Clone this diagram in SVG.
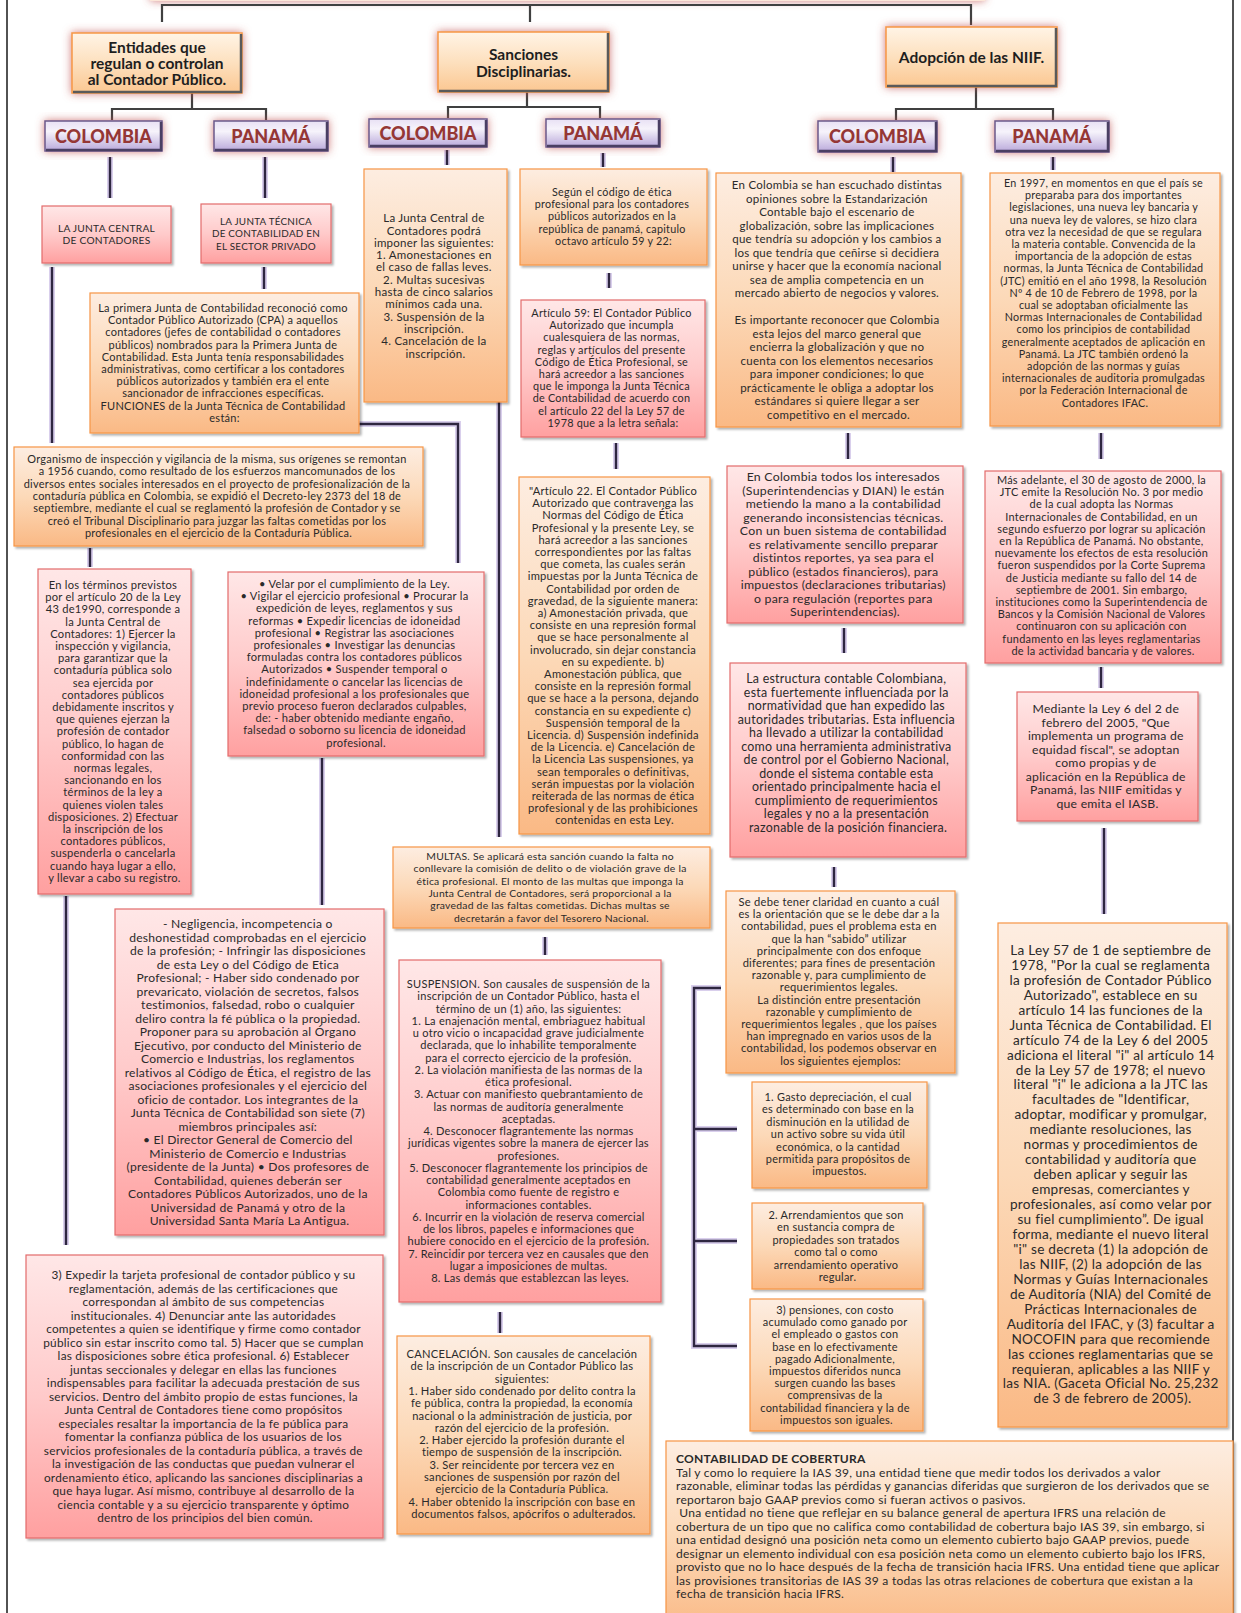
<svg xmlns="http://www.w3.org/2000/svg" width="1241" height="1613" viewBox="0 0 1241 1613">
<defs>
<linearGradient id="og" x1="0" y1="0" x2="0" y2="1"><stop offset="0" stop-color="#FDEDE1"/><stop offset="0.5" stop-color="#FCD9B8"/><stop offset="1" stop-color="#FAB985"/></linearGradient>
<linearGradient id="pg" x1="0" y1="0" x2="0" y2="1"><stop offset="0" stop-color="#FFE7E7"/><stop offset="0.5" stop-color="#FFCACA"/><stop offset="1" stop-color="#FFA0A0"/></linearGradient>
<linearGradient id="tg" x1="0" y1="0" x2="0" y2="1"><stop offset="0" stop-color="#FFF4E6"/><stop offset="0.5" stop-color="#FDE0BE"/><stop offset="1" stop-color="#FBC791"/></linearGradient>
<linearGradient id="cg" x1="0" y1="0" x2="0" y2="1"><stop offset="0" stop-color="#E8E0F4"/><stop offset="0.35" stop-color="#F6F3FB"/><stop offset="1" stop-color="#B9A8DA"/></linearGradient>
<filter id="sh" x="-10%" y="-10%" width="120%" height="120%"><feDropShadow dx="2" dy="2" stdDeviation="1.2" flood-color="#000" flood-opacity="0.3"/></filter>
<filter id="glow" x="-20%" y="-30%" width="140%" height="160%"><feDropShadow dx="0" dy="0" stdDeviation="4" flood-color="#C0504D" flood-opacity="0.75"/></filter>
</defs>
<style>
.ob{fill:url(#og);stroke:#F79646;stroke-width:1.2;filter:url(#sh)}
.pb{fill:url(#pg);stroke:#E36C6C;stroke-width:1.2;filter:url(#sh)}
.tb{fill:url(#tg);stroke:#F79646;stroke-width:1.5;filter:url(#glow)}
.cb{fill:url(#cg);stroke:#6A5A8A;stroke-width:1.5;filter:url(#glow)}
.bev{fill:none;stroke:#5A5A5A;stroke-width:2.5}
.cbev{fill:none;stroke:#4A3F63;stroke-width:2.5}
.t{font-family:Lato,"Liberation Sans",sans-serif;fill:#2A2A2A;text-anchor:middle;letter-spacing:0.25px}
.tl{font-family:Lato,"Liberation Sans",sans-serif;fill:#2A2A2A;letter-spacing:0.25px}
.tt{font-family:Lato,"Liberation Sans",sans-serif;font-weight:bold;fill:#1E1E1E;text-anchor:middle;font-size:15.5px}
.ct{font-family:Lato,"Liberation Sans",sans-serif;font-weight:900;fill:#953735;text-anchor:middle;font-size:18px}
.tree{fill:none;stroke:#404040;stroke-width:2.2}
.cg1{fill:none;stroke:#B9A7DD;stroke-width:6;stroke-opacity:0.55}
.cl{fill:none;stroke:#2E2640;stroke-width:2.4}
</style>
<rect x="0" y="0" width="1241" height="1613" fill="#FFFFFF"/>
<rect x="7" y="-10" width="1226" height="1640" fill="none" stroke="#1A1A1A" stroke-width="1.5"/>
<rect id="root-glow" x="150" y="-30" width="835" height="31" fill="#FCE6D8" filter="url(#glow)"/>

<g id="connectors">
<path class="tree" d="M162,22 V5 H971 V25 M530,5 V22 M192,93 V109 M112,120 V109 H266 V120 M527,92 V107 M448,118 V107 H600 V118 M976,87 V109 M896,120 V109 H1053 V120"/>
<path class="cg1" d="M110,157 V198 M265,157 V198 M52,267 V443 M264,267 V289 M359,424 H458 V563 M90,548 V567 M66,896 V1245 M322,758 V905 M447,150 V165 M603,153 V167 M499,402 V837 M609,273 V288 M616,443 V469 M545,937 V955 M500,1312 V1333 M893,157 V172 M1053,157 V170 M848,433 V459 M1101,433 V459 M844,628 V653 M1101,667 V688 M834,867 V887 M1104,828 V914 M721,988 H694 V1346 H737 M694,1129 H737 M694,1241 H737"/>
<path class="cl" d="M110,157 V198 M265,157 V198 M52,267 V443 M264,267 V289 M359,424 H458 V563 M90,548 V567 M66,896 V1245 M322,758 V905 M447,150 V165 M603,153 V167 M499,402 V837 M609,273 V288 M616,443 V469 M545,937 V955 M500,1312 V1333 M893,157 V172 M1053,157 V170 M848,433 V459 M1101,433 V459 M844,628 V653 M1101,667 V688 M834,867 V887 M1104,828 V914 M721,988 H694 V1346 H737 M694,1129 H737 M694,1241 H737"/>
</g>

<g id="n-entidades">
<rect class="tb" x="72" y="33" width="170" height="60"/>
<path class="bev" d="M241,34 V92 H73"/>
<text class="tt" x="157" y="52.5"><tspan x="157">Entidades que</tspan><tspan x="157" dy="16">regulan o controlan</tspan><tspan x="157" dy="16">al Contador Público.</tspan></text>
</g>
<g id="n-sanciones">
<rect class="tb" x="438" y="32" width="171" height="60"/>
<path class="bev" d="M608,33 V91 H439"/>
<text class="tt" x="523.5" y="59.5"><tspan x="523.5">Sanciones</tspan><tspan x="523.5" dy="17">Disciplinarias.</tspan></text>
</g>
<g id="n-adopcion">
<rect class="tb" x="886" y="27" width="171" height="60"/>
<path class="bev" d="M1056,28 V86 H887"/>
<text class="tt" x="971.5" y="62.5">Adopción de las NIIF.</text>
</g>

<g id="n-col1"><rect class="cb" x="45" y="121" width="117" height="30"/><path class="cbev" d="M161,122 V150 H46"/><text class="ct" x="103.5" y="142.5">COLOMBIA</text></g>
<g id="n-pan1"><rect class="cb" x="214" y="121" width="114" height="30"/><path class="cbev" d="M327,122 V150 H215"/><text class="ct" x="271" y="142.5">PANAMÁ</text></g>
<g id="n-col2"><rect class="cb" x="369" y="119" width="118" height="28"/><path class="cbev" d="M486,120 V146 H370"/><text class="ct" x="428" y="139.5">COLOMBIA</text></g>
<g id="n-pan2"><rect class="cb" x="546" y="119" width="114" height="28"/><path class="cbev" d="M659,120 V146 H547"/><text class="ct" x="603" y="139.5">PANAMÁ</text></g>
<g id="n-col3"><rect class="cb" x="818" y="121" width="119" height="31"/><path class="cbev" d="M936,122 V151 H819"/><text class="ct" x="877.5" y="143">COLOMBIA</text></g>
<g id="n-pan3"><rect class="cb" x="995" y="121" width="114" height="31"/><path class="cbev" d="M1108,122 V151 H996"/><text class="ct" x="1052" y="143">PANAMÁ</text></g>

<g id="n-junta-central"><rect class="pb" x="42" y="206" width="129" height="57"/>
<text class="t" font-size="10.2" x="106.5" y="231.8"><tspan x="106.5">LA JUNTA CENTRAL</tspan><tspan x="106.5" dy="12.5">DE CONTADORES</tspan></text></g>

<g id="n-junta-tecnica"><rect class="pb" x="201" y="204" width="130" height="59"/>
<text class="t" font-size="9.9" x="266" y="224.7"><tspan x="266">LA JUNTA TÉCNICA</tspan><tspan x="266" dy="12.5">DE CONTABILIDAD EN</tspan><tspan x="266" dy="12.5">EL SECTOR PRIVADO</tspan></text></g>

<g id="n-primera"><rect class="ob" x="90" y="293" width="269" height="140"/>
<text class="t" font-size="11" x="224.5" y="312">
<tspan x="224.5">La primera Junta de Contabilidad reconoció como</tspan>
<tspan x="224.5" dy="12.2">Contador Público Autorizado (CPA) a aquellos</tspan>
<tspan x="224.5" dy="12.2">contadores (jefes de contabilidad o contadores</tspan>
<tspan x="224.5" dy="12.2">públicos) nombrados para la Primera Junta de</tspan>
<tspan x="224.5" dy="12.2">Contabilidad. Esta Junta tenía responsabilidades</tspan>
<tspan x="224.5" dy="12.2">administrativas, como certificar a los contadores</tspan>
<tspan x="224.5" dy="12.2">públicos autorizados y también era el ente</tspan>
<tspan x="224.5" dy="12.2">sancionador de infracciones específicas.</tspan>
<tspan x="224.5" dy="12.2">FUNCIONES de la Junta Técnica de Contabilidad</tspan>
<tspan x="224.5" dy="12.2">están:</tspan>
</text></g>

<g id="n-col-sanciones"><rect class="ob" x="364" y="169" width="143" height="233"/>
<text class="t" font-size="11.5" x="435.5" y="222.2">
<tspan x="435.5">La Junta Central de</tspan>
<tspan x="435.5" dy="12.3">Contadores podrá</tspan>
<tspan x="435.5" dy="12.3">imponer las siguientes:</tspan>
<tspan x="435.5" dy="12.3">1. Amonestaciones en</tspan>
<tspan x="435.5" dy="12.3">el caso de fallas leves.</tspan>
<tspan x="435.5" dy="12.3">2. Multas sucesivas</tspan>
<tspan x="435.5" dy="12.3">hasta de cinco salarios</tspan>
<tspan x="435.5" dy="12.3">mínimos cada una.</tspan>
<tspan x="435.5" dy="12.3">3. Suspensión de la</tspan>
<tspan x="435.5" dy="12.3">inscripción.</tspan>
<tspan x="435.5" dy="12.3">4. Cancelación de la</tspan>
<tspan x="435.5" dy="12.3">inscripción.</tspan>
</text></g>

<g id="n-pan-sanciones"><rect class="ob" x="520" y="169" width="187" height="96"/>
<text class="t" font-size="10.75" x="613.5" y="196">
<tspan x="613.5">Según el código de ética</tspan>
<tspan x="613.5" dy="12.2">profesional para los contadores</tspan>
<tspan x="613.5" dy="12.2">públicos autorizados en la</tspan>
<tspan x="613.5" dy="12.2">república de panamá, capitulo</tspan>
<tspan x="613.5" dy="12.2">octavo artículo 59 y 22:</tspan>
</text></g>

<g id="n-art59"><rect class="pb" x="521" y="300" width="184" height="137"/>
<text class="t" font-size="10.85" x="613" y="317">
<tspan x="613">Artículo 59: El Contador  Público</tspan>
<tspan x="613" dy="12.2">Autorizado que  incumpla</tspan>
<tspan x="613" dy="12.2">cualesquiera de las normas,</tspan>
<tspan x="613" dy="12.2">reglas y artículos del presente</tspan>
<tspan x="613" dy="12.2">Código de Ética Profesional, se</tspan>
<tspan x="613" dy="12.2">hará acreedor a las sanciones</tspan>
<tspan x="613" dy="12.2">que le imponga la Junta Técnica</tspan>
<tspan x="613" dy="12.2">de Contabilidad de acuerdo con</tspan>
<tspan x="613" dy="12.2">el artículo 22 del la Ley 57 de</tspan>
<tspan x="613" dy="12.2">1978 que a la letra señala:</tspan>
</text></g>

<g id="n-col-niif1"><rect class="ob" x="716" y="173" width="245" height="254"/>
<text class="t" font-size="11.5" x="838.5" y="189.2">
<tspan x="838.5">En Colombia se han escuchado distintas</tspan>
<tspan x="838.5" dy="13.5">opiniones sobre la Estandarización</tspan>
<tspan x="838.5" dy="13.5">Contable bajo el escenario de</tspan>
<tspan x="838.5" dy="13.5">globalización, sobre las implicaciones</tspan>
<tspan x="838.5" dy="13.5">que tendría su adopción y los cambios a</tspan>
<tspan x="838.5" dy="13.5">los que tendría que ceñirse si decidiera</tspan>
<tspan x="838.5" dy="13.5">unirse y hacer que la economía nacional</tspan>
<tspan x="838.5" dy="13.5">sea de amplia competencia en un</tspan>
<tspan x="838.5" dy="13.5">mercado abierto de negocios y valores.</tspan>
<tspan x="838.5" dy="27">Es importante  reconocer que Colombia</tspan>
<tspan x="838.5" dy="13.5">esta lejos del marco general que</tspan>
<tspan x="838.5" dy="13.5">encierra la globalización  y que no</tspan>
<tspan x="838.5" dy="13.5">cuenta con los elementos necesarios</tspan>
<tspan x="838.5" dy="13.5">para imponer condiciones; lo que</tspan>
<tspan x="838.5" dy="13.5">prácticamente le obliga a adoptar los</tspan>
<tspan x="838.5" dy="13.5">estándares si quiere llegar a ser</tspan>
<tspan x="838.5" dy="13.5">competitivo en el mercado.</tspan>
</text></g>

<g id="n-pan-niif1"><rect class="ob" x="990" y="173" width="230" height="253"/>
<text class="t" font-size="10.75" x="1105" y="187">
<tspan x="1105">En 1997, en momentos en que el país se</tspan>
<tspan x="1105" dy="12.2">preparaba para dos importantes</tspan>
<tspan x="1105" dy="12.2">legislaciones, una nueva ley bancaria y</tspan>
<tspan x="1105" dy="12.2">una nueva  ley de valores, se hizo clara</tspan>
<tspan x="1105" dy="12.2">otra vez la necesidad de que se regulara</tspan>
<tspan x="1105" dy="12.2">la materia contable. Convencida  de la</tspan>
<tspan x="1105" dy="12.2">importancia de la adopción de estas</tspan>
<tspan x="1105" dy="12.2">normas, la Junta Técnica de Contabilidad</tspan>
<tspan x="1105" dy="12.2">(JTC) emitió en el año 1998, la Resolución</tspan>
<tspan x="1105" dy="12.2">Nº 4 de 10 de Febrero de 1998, por la</tspan>
<tspan x="1105" dy="12.2">cual se adoptaban oficialmente las</tspan>
<tspan x="1105" dy="12.2">Normas Internacionales de Contabilidad</tspan>
<tspan x="1105" dy="12.2">como los principios de contabilidad</tspan>
<tspan x="1105" dy="12.2">generalmente aceptados de aplicación en</tspan>
<tspan x="1105" dy="12.2">Panamá. La JTC también ordenó la</tspan>
<tspan x="1105" dy="12.2">adopción de las normas y guías</tspan>
<tspan x="1105" dy="12.2">internacionales de auditoria promulgadas</tspan>
<tspan x="1105" dy="12.2">por la Federación Internacional de</tspan>
<tspan x="1105" dy="12.2">Contadores IFAC.</tspan>
</text></g>

<g id="n-organismo"><rect class="ob" x="14" y="447" width="409" height="99"/>
<text class="t" font-size="10.95" x="218.5" y="463">
<tspan x="218.5">Organismo de inspección y vigilancia de la misma, sus orígenes se remontan</tspan>
<tspan x="218.5" dy="12.3">a 1956 cuando,  como resultado de los esfuerzos mancomunados de los</tspan>
<tspan x="218.5" dy="12.3">diversos entes sociales interesados en el proyecto de profesionalización de la</tspan>
<tspan x="218.5" dy="12.3">contaduría pública en Colombia, se expidió el Decreto-ley 2373 del 18 de</tspan>
<tspan x="218.5" dy="12.3">septiembre, mediante el cual se reglamentó la profesión de Contador y se</tspan>
<tspan x="218.5" dy="12.3">creó el Tribunal Disciplinario para juzgar las faltas cometidas por los</tspan>
<tspan x="218.5" dy="12.3">profesionales en el ejercicio de la Contaduría  Pública.</tspan>
</text></g>

<g id="n-terminos"><rect class="pb" x="38" y="569" width="153" height="325"/>
<text class="t" font-size="11.15" x="114.5" y="589">
<tspan x="114.5">En los términos previstos</tspan>
<tspan x="114.5" dy="12.2">por el artículo 20 de la Ley</tspan>
<tspan x="114.5" dy="12.2">43 de1990, corresponde  a</tspan>
<tspan x="114.5" dy="12.2">la Junta Central de</tspan>
<tspan x="114.5" dy="12.2">Contadores: 1) Ejercer la</tspan>
<tspan x="114.5" dy="12.2">inspección y vigilancia,</tspan>
<tspan x="114.5" dy="12.2">para garantizar que la</tspan>
<tspan x="114.5" dy="12.2">contaduría pública solo</tspan>
<tspan x="114.5" dy="12.2">sea ejercida por</tspan>
<tspan x="114.5" dy="12.2">contadores públicos</tspan>
<tspan x="114.5" dy="12.2">debidamente inscritos y</tspan>
<tspan x="114.5" dy="12.2">que quienes ejerzan la</tspan>
<tspan x="114.5" dy="12.2">profesión de contador</tspan>
<tspan x="114.5" dy="12.2">público, lo hagan de</tspan>
<tspan x="114.5" dy="12.2">conformidad con las</tspan>
<tspan x="114.5" dy="12.2">normas legales,</tspan>
<tspan x="114.5" dy="12.2">sancionando en los</tspan>
<tspan x="114.5" dy="12.2">términos de la ley a</tspan>
<tspan x="114.5" dy="12.2">quienes violen tales</tspan>
<tspan x="114.5" dy="12.2">disposiciones. 2) Efectuar</tspan>
<tspan x="114.5" dy="12.2">la inscripción de los</tspan>
<tspan x="114.5" dy="12.2">contadores públicos,</tspan>
<tspan x="114.5" dy="12.2">suspenderla o cancelarla</tspan>
<tspan x="114.5" dy="12.2">cuando haya lugar a ello,</tspan>
<tspan x="114.5" dy="12.2">y llevar a cabo su registro.</tspan>
</text></g>

<g id="n-velar"><rect class="pb" x="228" y="572" width="256" height="184"/>
<text class="t" font-size="11.15" x="356" y="588">
<tspan x="356">• Velar por el cumplimiento de la Ley.</tspan>
<tspan x="356" dy="12.2">• Vigilar el ejercicio profesional  • Procurar  la</tspan>
<tspan x="356" dy="12.2">expedición de leyes, reglamentos y sus</tspan>
<tspan x="356" dy="12.2">reformas • Expedir licencias de idoneidad</tspan>
<tspan x="356" dy="12.2">profesional • Registrar las asociaciones</tspan>
<tspan x="356" dy="12.2">profesionales • Investigar las denuncias</tspan>
<tspan x="356" dy="12.2">formuladas contra los contadores  públicos</tspan>
<tspan x="356" dy="12.2">Autorizados • Suspender temporal o</tspan>
<tspan x="356" dy="12.2">indefinidamente o cancelar las licencias de</tspan>
<tspan x="356" dy="12.2">idoneidad profesional a los profesionales que</tspan>
<tspan x="356" dy="12.2">previo proceso fueron declarados culpables,</tspan>
<tspan x="356" dy="12.2">de: -  haber obtenido mediante engaño,</tspan>
<tspan x="356" dy="12.2">falsedad o soborno  su licencia de idoneidad</tspan>
<tspan x="356" dy="12.2">profesional.</tspan>
</text></g>

<g id="n-art22"><rect class="ob" x="519" y="477" width="191" height="357"/>
<text class="t" font-size="11.15" x="614.5" y="495">
<tspan x="614.5">"Artículo 22. El Contador  Público</tspan>
<tspan x="614.5" dy="12.2">Autorizado que  contravenga las</tspan>
<tspan x="614.5" dy="12.2">Normas del Código de Ética</tspan>
<tspan x="614.5" dy="12.2">Profesional y la presente Ley, se</tspan>
<tspan x="614.5" dy="12.2">hará acreedor a las sanciones</tspan>
<tspan x="614.5" dy="12.2">correspondientes por  las faltas</tspan>
<tspan x="614.5" dy="12.2">que cometa, las cuales serán</tspan>
<tspan x="614.5" dy="12.2">impuestas por la Junta Técnica de</tspan>
<tspan x="614.5" dy="12.2">Contabilidad por  orden  de</tspan>
<tspan x="614.5" dy="12.2">gravedad, de la siguiente manera:</tspan>
<tspan x="614.5" dy="12.2">a) Amonestación privada, que</tspan>
<tspan x="614.5" dy="12.2">consiste en una represión formal</tspan>
<tspan x="614.5" dy="12.2">que se hace personalmente al</tspan>
<tspan x="614.5" dy="12.2">involucrado, sin dejar constancia</tspan>
<tspan x="614.5" dy="12.2">en su expediente. b)</tspan>
<tspan x="614.5" dy="12.2">Amonestación pública, que</tspan>
<tspan x="614.5" dy="12.2">consiste en la represión formal</tspan>
<tspan x="614.5" dy="12.2">que se hace a la persona, dejando</tspan>
<tspan x="614.5" dy="12.2">constancia en su expediente  c)</tspan>
<tspan x="614.5" dy="12.2">Suspensión temporal  de la</tspan>
<tspan x="614.5" dy="12.2">Licencia. d) Suspensión indefinida</tspan>
<tspan x="614.5" dy="12.2">de la Licencia.  e) Cancelación de</tspan>
<tspan x="614.5" dy="12.2">la Licencia Las suspensiones, ya</tspan>
<tspan x="614.5" dy="12.2">sean temporales o definitivas,</tspan>
<tspan x="614.5" dy="12.2">serán impuestas por la violación</tspan>
<tspan x="614.5" dy="12.2">reiterada de las normas de ética</tspan>
<tspan x="614.5" dy="12.2">profesional y de las prohibiciones</tspan>
<tspan x="614.5" dy="12.2">contenidas en esta Ley.</tspan>
</text></g>

<g id="n-multas"><rect class="ob" x="393" y="847" width="317" height="81"/>
<text class="t" font-size="10.35" x="551.5" y="859.8">
<tspan x="551.5">MULTAS. Se aplicará esta sanción cuando  la falta no</tspan>
<tspan x="551.5" dy="12.4">conllevare la comisión de delito o de violación grave de la</tspan>
<tspan x="551.5" dy="12.4">ética profesional. El monto  de las multas que imponga la</tspan>
<tspan x="551.5" dy="12.4">Junta Central de Contadores,  será proporcional  a la</tspan>
<tspan x="551.5" dy="12.4">gravedad de las faltas cometidas. Dichas multas se</tspan>
<tspan x="551.5" dy="12.4">decretarán a favor del Tesorero  Nacional.</tspan>
</text></g>

<g id="n-col-niif2"><rect class="pb" x="727" y="466" width="236" height="157"/>
<text class="t" font-size="12.3" x="845" y="481.4">
<tspan x="845">En Colombia todos los interesados</tspan>
<tspan x="845" dy="13.5">(Superintendencias y DIAN)  le están</tspan>
<tspan x="845" dy="13.5">metiendo la mano a la contabilidad</tspan>
<tspan x="845" dy="13.5">generando inconsistencias técnicas.</tspan>
<tspan x="845" dy="13.5">Con un buen sistema de contabilidad</tspan>
<tspan x="845" dy="13.5">es relativamente  sencillo preparar</tspan>
<tspan x="845" dy="13.5">distintos  reportes, ya sea para el</tspan>
<tspan x="845" dy="13.5">público (estados financieros), para</tspan>
<tspan x="845" dy="13.5">impuestos (declaraciones tributarias)</tspan>
<tspan x="845" dy="13.5">o para regulación (reportes para</tspan>
<tspan x="845" dy="13.5">Superintendencias).</tspan>
</text></g>

<g id="n-col-niif3"><rect class="pb" x="730" y="663" width="236" height="194"/>
<text class="t" font-size="12.4" x="848" y="683.4">
<tspan x="848">La estructura contable Colombiana,</tspan>
<tspan x="848" dy="13.5">esta fuertemente influenciada por la</tspan>
<tspan x="848" dy="13.5">normatividad  que han  expedido las</tspan>
<tspan x="848" dy="13.5">autoridades tributarias.  Esta influencia</tspan>
<tspan x="848" dy="13.5">ha llevado  a utilizar  la contabilidad</tspan>
<tspan x="848" dy="13.5">como una  herramienta administrativa</tspan>
<tspan x="848" dy="13.5">de control por el Gobierno Nacional,</tspan>
<tspan x="848" dy="13.5">donde el sistema  contable esta</tspan>
<tspan x="848" dy="13.5">orientado principalmente  hacia el</tspan>
<tspan x="848" dy="13.5">cumplimiento de requerimientos</tspan>
<tspan x="848" dy="13.5">legales y no a la presentación</tspan>
<tspan x="848" dy="13.5">razonable de la  posición financiera.</tspan>
</text></g>

<g id="n-pan-niif2"><rect class="pb" x="985" y="471" width="236" height="192"/>
<text class="t" font-size="10.95" x="1103" y="484">
<tspan x="1103">Más adelante, el 30 de agosto de 2000, la</tspan>
<tspan x="1103" dy="12.2">JTC emite la Resolución No. 3 por medio</tspan>
<tspan x="1103" dy="12.2">de la cual adopta las Normas</tspan>
<tspan x="1103" dy="12.2">Internacionales de Contabilidad, en un</tspan>
<tspan x="1103" dy="12.2">segundo esfuerzo por lograr su aplicación</tspan>
<tspan x="1103" dy="12.2">en la República de Panamá. No obstante,</tspan>
<tspan x="1103" dy="12.2">nuevamente los efectos de esta resolución</tspan>
<tspan x="1103" dy="12.2">fueron suspendidos  por la Corte Suprema</tspan>
<tspan x="1103" dy="12.2">de Justicia mediante su fallo del 14 de</tspan>
<tspan x="1103" dy="12.2">septiembre de 2001.  Sin embargo,</tspan>
<tspan x="1103" dy="12.2">instituciones como la Superintendencia de</tspan>
<tspan x="1103" dy="12.2">Bancos y la Comisión Nacional de Valores</tspan>
<tspan x="1103" dy="12.2">continuaron con su aplicación con</tspan>
<tspan x="1103" dy="12.2">fundamento en las leyes reglamentarias</tspan>
<tspan x="1103" dy="12.2">de la actividad bancaria y de valores.</tspan>
</text></g>

<g id="n-pan-niif3"><rect class="pb" x="1017" y="692" width="181" height="129"/>
<text class="t" font-size="12.2" x="1107.5" y="713.4">
<tspan x="1107.5">Mediante  la Ley 6 del 2 de</tspan>
<tspan x="1107.5" dy="13.5">febrero del 2005, "Que</tspan>
<tspan x="1107.5" dy="13.5">implementa  un  programa  de</tspan>
<tspan x="1107.5" dy="13.5">equidad fiscal", se  adoptan</tspan>
<tspan x="1107.5" dy="13.5">como propias  y de</tspan>
<tspan x="1107.5" dy="13.5">aplicación en la República de</tspan>
<tspan x="1107.5" dy="13.5">Panamá,  las  NIIF  emitidas  y</tspan>
<tspan x="1107.5" dy="13.5">que emita  el IASB.</tspan>
</text></g>

<g id="n-sedebe"><rect class="ob" x="726" y="891" width="229" height="182"/>
<text class="t" font-size="11.15" x="840.5" y="906">
<tspan x="840.5">Se debe tener claridad en cuanto a cuál</tspan>
<tspan x="840.5" dy="12.2">es la orientación que se le debe dar a la</tspan>
<tspan x="840.5" dy="12.2">contabilidad, pues el problema esta en</tspan>
<tspan x="840.5" dy="12.2">que la han “sabido” utilizar</tspan>
<tspan x="840.5" dy="12.2">principalmente con dos enfoque</tspan>
<tspan x="840.5" dy="12.2">diferentes; para fines de presentación</tspan>
<tspan x="840.5" dy="12.2">razonable y, para cumplimiento de</tspan>
<tspan x="840.5" dy="12.2">requerimientos legales.</tspan>
<tspan x="840.5" dy="12.2">La distinción entre presentación</tspan>
<tspan x="840.5" dy="12.2">razonable  y cumplimiento de</tspan>
<tspan x="840.5" dy="12.2">requerimientos legales , que los países</tspan>
<tspan x="840.5" dy="12.2">han impregnado en varios usos de la</tspan>
<tspan x="840.5" dy="12.2">contabilidad, los podemos observar en</tspan>
<tspan x="840.5" dy="12.2">los siguientes ejemplos:</tspan>
</text></g>

<g id="n-gasto"><rect class="ob" x="752" y="1082" width="175" height="106"/>
<text class="t" font-size="10.95" x="839.5" y="1101">
<tspan x="839.5">1. Gasto depreciación, el cual</tspan>
<tspan x="839.5" dy="12.4">es determinado con base en la</tspan>
<tspan x="839.5" dy="12.4">disminución en la utilidad de</tspan>
<tspan x="839.5" dy="12.4">un activo sobre  su vida útil</tspan>
<tspan x="839.5" dy="12.4">económica, o la cantidad</tspan>
<tspan x="839.5" dy="12.4">permitida para propósitos  de</tspan>
<tspan x="839.5" dy="12.4">impuestos.</tspan>
</text></g>

<g id="n-arrend"><rect class="ob" x="752" y="1203" width="171" height="86"/>
<text class="t" font-size="10.95" x="837.5" y="1219">
<tspan x="837.5">2. Arrendamientos que son</tspan>
<tspan x="837.5" dy="12.4">en sustancia compra de</tspan>
<tspan x="837.5" dy="12.4">propiedades son tratados</tspan>
<tspan x="837.5" dy="12.4">como tal  o como</tspan>
<tspan x="837.5" dy="12.4">arrendamiento operativo</tspan>
<tspan x="837.5" dy="12.4">regular.</tspan>
</text></g>

<g id="n-pensiones"><rect class="ob" x="750" y="1299" width="173" height="132"/>
<text class="t" font-size="10.95" x="836.5" y="1314">
<tspan x="836.5">3) pensiones, con  costo</tspan>
<tspan x="836.5" dy="12.2">acumulado como ganado por</tspan>
<tspan x="836.5" dy="12.2">el empleado  o gastos con</tspan>
<tspan x="836.5" dy="12.2">base en lo efectivamente</tspan>
<tspan x="836.5" dy="12.2">pagado Adicionalmente,</tspan>
<tspan x="836.5" dy="12.2">impuestos diferidos nunca</tspan>
<tspan x="836.5" dy="12.2">surgen cuando  las bases</tspan>
<tspan x="836.5" dy="12.2">comprensivas de la</tspan>
<tspan x="836.5" dy="12.2">contabilidad financiera y la de</tspan>
<tspan x="836.5" dy="12.2">impuestos son iguales.</tspan>
</text></g>

<g id="n-ley57"><rect class="ob" x="998" y="923" width="229" height="504"/>
<text class="t" font-size="13.6" x="1112.5" y="954.9">
<tspan x="1112.5">La Ley 57 de 1 de septiembre de</tspan>
<tspan x="1112.5" dy="14.95">1978, "Por la cual se reglamenta</tspan>
<tspan x="1112.5" dy="14.95">la profesión de Contador Público</tspan>
<tspan x="1112.5" dy="14.95">Autorizado", establece en su</tspan>
<tspan x="1112.5" dy="14.95">artículo 14  las funciones de la</tspan>
<tspan x="1112.5" dy="14.95">Junta Técnica de Contabilidad. El</tspan>
<tspan x="1112.5" dy="14.95">artículo 74  de la Ley 6 del 2005</tspan>
<tspan x="1112.5" dy="14.95">adiciona el literal "i" al artículo 14</tspan>
<tspan x="1112.5" dy="14.95">de la Ley 57  de 1978;  el nuevo</tspan>
<tspan x="1112.5" dy="14.95">literal "i" le adiciona a la JTC las</tspan>
<tspan x="1112.5" dy="14.95">facultades de "Identificar,</tspan>
<tspan x="1112.5" dy="14.95">adoptar, modificar y promulgar,</tspan>
<tspan x="1112.5" dy="14.95">mediante resoluciones, las</tspan>
<tspan x="1112.5" dy="14.95">normas y procedimientos de</tspan>
<tspan x="1112.5" dy="14.95">contabilidad y auditoría que</tspan>
<tspan x="1112.5" dy="14.95">deben aplicar y seguir las</tspan>
<tspan x="1112.5" dy="14.95">empresas, comerciantes y</tspan>
<tspan x="1112.5" dy="14.95">profesionales, así como velar por</tspan>
<tspan x="1112.5" dy="14.95">su fiel cumplimiento”. De igual</tspan>
<tspan x="1112.5" dy="14.95">forma, mediante el nuevo literal</tspan>
<tspan x="1112.5" dy="14.95">"i" se decreta (1) la adopción de</tspan>
<tspan x="1112.5" dy="14.95">las NIIF, (2) la adopción de las</tspan>
<tspan x="1112.5" dy="14.95">Normas y Guías Internacionales</tspan>
<tspan x="1112.5" dy="14.95">de Auditoría (NIA) del Comité de</tspan>
<tspan x="1112.5" dy="14.95">Prácticas Internacionales de</tspan>
<tspan x="1112.5" dy="14.95">Auditoría del IFAC, y (3) facultar a</tspan>
<tspan x="1112.5" dy="14.95">NOCOFIN para que recomiende</tspan>
<tspan x="1112.5" dy="14.95">las cciones reglamentarias que se</tspan>
<tspan x="1112.5" dy="14.95">requieran, aplicables a las NIIF y</tspan>
<tspan x="1112.5" dy="14.95">las NIA. (Gaceta Oficial No. 25,232</tspan>
<tspan x="1112.5" dy="14.95">de 3 de febrero de 2005).</tspan>
</text></g>

<g id="n-negligencia"><rect class="pb" x="115" y="909" width="269" height="326"/>
<text class="t" font-size="12.1" x="249.5" y="928.3">
<tspan x="249.5">- Negligencia, incompetencia o</tspan>
<tspan x="249.5" dy="13.5">deshonestidad comprobadas en el  ejercicio</tspan>
<tspan x="249.5" dy="13.5">de la profesión; - Infringir las disposiciones</tspan>
<tspan x="249.5" dy="13.5">de esta Ley o del Código de Etica</tspan>
<tspan x="249.5" dy="13.5">Profesional; - Haber sido condenado por</tspan>
<tspan x="249.5" dy="13.5">prevaricato, violación de secretos, falsos</tspan>
<tspan x="249.5" dy="13.5">testimonios, falsedad, robo o cualquier</tspan>
<tspan x="249.5" dy="13.5">deliro contra la fé pública o la propiedad.</tspan>
<tspan x="249.5" dy="13.5">Proponer para su aprobación al Órgano</tspan>
<tspan x="249.5" dy="13.5">Ejecutivo, por conducto del Ministerio de</tspan>
<tspan x="249.5" dy="13.5">Comercio e Industrias,  los reglamentos</tspan>
<tspan x="249.5" dy="13.5">relativos al Código de Ética,  el registro de las</tspan>
<tspan x="249.5" dy="13.5">asociaciones profesionales y el ejercicio del</tspan>
<tspan x="249.5" dy="13.5">oficio de contador. Los integrantes de la</tspan>
<tspan x="249.5" dy="13.5">Junta Técnica de Contabilidad son siete (7)</tspan>
<tspan x="249.5" dy="13.5">miembros principales así:</tspan>
<tspan x="249.5" dy="13.5">• El Director General de Comercio del</tspan>
<tspan x="249.5" dy="13.5">Ministerio de Comercio e Industrias</tspan>
<tspan x="249.5" dy="13.5">(presidente de la Junta)  • Dos profesores de</tspan>
<tspan x="249.5" dy="13.5">Contabilidad, quienes deberán ser</tspan>
<tspan x="249.5" dy="13.5">Contadores Públicos Autorizados,  uno de la</tspan>
<tspan x="249.5" dy="13.5">Universidad de Panamá  y otro de la</tspan>
<tspan x="249.5" dy="13.5">Universidad Santa María La Antigua.</tspan>
</text></g>

<g id="n-suspension"><rect class="pb" x="399" y="960" width="262" height="342"/>
<text class="t" font-size="11.05" x="530" y="988">
<tspan x="530">SUSPENSION. Son causales de suspensión de la</tspan>
<tspan x="530" dy="12.25">inscripción de un Contador Público, hasta el</tspan>
<tspan x="530" dy="12.25">término de un (1) año, las siguientes:</tspan>
<tspan x="530" dy="12.25">1. La enajenación mental, embriaguez habitual</tspan>
<tspan x="530" dy="12.25">u otro vicio o incapacidad grave judicialmente</tspan>
<tspan x="530" dy="12.25">declarada, que lo inhabilite temporalmente</tspan>
<tspan x="530" dy="12.25">para el correcto ejercicio de la profesión.</tspan>
<tspan x="530" dy="12.25">2. La violación manifiesta de las normas de la</tspan>
<tspan x="530" dy="12.25">ética profesional.</tspan>
<tspan x="530" dy="12.25">3. Actuar con manifiesto quebrantamiento de</tspan>
<tspan x="530" dy="12.25">las normas de auditoría generalmente</tspan>
<tspan x="530" dy="12.25">aceptadas.</tspan>
<tspan x="530" dy="12.25">4. Desconocer flagrantemente las normas</tspan>
<tspan x="530" dy="12.25">jurídicas vigentes sobre la manera de ejercer las</tspan>
<tspan x="530" dy="12.25">profesiones.</tspan>
<tspan x="530" dy="12.25">5. Desconocer flagrantemente los principios de</tspan>
<tspan x="530" dy="12.25">contabilidad generalmente aceptados en</tspan>
<tspan x="530" dy="12.25">Colombia como fuente de registro e</tspan>
<tspan x="530" dy="12.25">informaciones contables.</tspan>
<tspan x="530" dy="12.25">6. Incurrir en la violación de reserva comercial</tspan>
<tspan x="530" dy="12.25">de los libros, papeles e informaciones que</tspan>
<tspan x="530" dy="12.25">hubiere conocido en el ejercicio de la profesión.</tspan>
<tspan x="530" dy="12.25">7. Reincidir por tercera vez en causales que den</tspan>
<tspan x="530" dy="12.25">lugar a imposiciones de multas.</tspan>
<tspan x="530" dy="12.25">8. Las demás que establezcan las leyes.</tspan>
</text></g>

<g id="n-expedir"><rect class="pb" x="26" y="1255" width="357" height="283"/>
<text class="t" font-size="11.8" x="205" y="1279.2">
<tspan x="205">3) Expedir la tarjeta profesional de contador público y su</tspan>
<tspan x="205" dy="13.5">reglamentación, además  de las certificaciones que</tspan>
<tspan x="205" dy="13.5">correspondan al ámbito  de sus competencias</tspan>
<tspan x="205" dy="13.5">institucionales.  4) Denunciar ante  las autoridades</tspan>
<tspan x="205" dy="13.5">competentes a  quien se identifique y firme  como contador</tspan>
<tspan x="205" dy="13.5">público sin estar inscrito como tal.  5) Hacer que se cumplan</tspan>
<tspan x="205" dy="13.5">las disposiciones sobre ética profesional.  6) Establecer</tspan>
<tspan x="205" dy="13.5">juntas seccionales y delegar en ellas las funciones</tspan>
<tspan x="205" dy="13.5">indispensables para facilitar  la adecuada prestación de sus</tspan>
<tspan x="205" dy="13.5">servicios. Dentro del ámbito propio de estas funciones, la</tspan>
<tspan x="205" dy="13.5">Junta Central de Contadores tiene como  propósitos</tspan>
<tspan x="205" dy="13.5">especiales resaltar la importancia  de la fe pública para</tspan>
<tspan x="205" dy="13.5">fomentar  la confianza  pública de los usuarios de los</tspan>
<tspan x="205" dy="13.5">servicios profesionales de la contaduría pública, a través de</tspan>
<tspan x="205" dy="13.5">la investigación  de las conductas que puedan vulnerar el</tspan>
<tspan x="205" dy="13.5">ordenamiento ético, aplicando las sanciones disciplinarias a</tspan>
<tspan x="205" dy="13.5">que haya lugar.  Así mismo,  contribuye al desarrollo de la</tspan>
<tspan x="205" dy="13.5">ciencia contable y a su ejercicio transparente y óptimo</tspan>
<tspan x="205" dy="13.5">dentro de los principios del bien común.</tspan>
</text></g>

<g id="n-cancelacion"><rect class="ob" x="397" y="1336" width="253" height="198"/>
<text class="t" font-size="11.15" x="523.5" y="1358">
<tspan x="523.5">CANCELACIÓN. Son causales de cancelación</tspan>
<tspan x="523.5" dy="12.3">de la inscripción de un Contador Público las</tspan>
<tspan x="523.5" dy="12.3">siguientes:</tspan>
<tspan x="523.5" dy="12.3">1. Haber sido condenado por delito contra la</tspan>
<tspan x="523.5" dy="12.3">fe pública, contra  la propiedad,  la economía</tspan>
<tspan x="523.5" dy="12.3">nacional o la administración de justicia, por</tspan>
<tspan x="523.5" dy="12.3">razón del ejercicio de la profesión.</tspan>
<tspan x="523.5" dy="12.3">2. Haber ejercido la profesión durante el</tspan>
<tspan x="523.5" dy="12.3">tiempo de suspensión de la inscripción.</tspan>
<tspan x="523.5" dy="12.3">3. Ser reincidente  por tercera vez en</tspan>
<tspan x="523.5" dy="12.3">sanciones de suspensión por razón del</tspan>
<tspan x="523.5" dy="12.3">ejercicio de la Contaduría  Pública.</tspan>
<tspan x="523.5" dy="12.3">4. Haber obtenido la inscripción con base en</tspan>
<tspan x="523.5" dy="12.3">documentos falsos, apócrifos o adulterados.</tspan>
</text></g>

<g id="n-cobertura"><rect class="ob" x="666" y="1441" width="567" height="190"/>
<text class="tl" font-size="12.05" x="676" y="1463.4">
<tspan x="676" font-weight="bold">CONTABILIDAD DE COBERTURA</tspan>
<tspan x="676" dy="13.5">Tal y como lo requiere la IAS 39, una entidad tiene que medir todos los derivados a valor</tspan>
<tspan x="676" dy="13.5">razonable, eliminar todas las pérdidas y ganancias diferidas que surgieron de los derivados que se</tspan>
<tspan x="676" dy="13.5">reportaron bajo GAAP previos como si fueran activos o pasivos.</tspan>
<tspan x="676" dy="13.5">&#160;Una entidad  no tiene que reflejar en su balance general de apertura  IFRS una relación de</tspan>
<tspan x="676" dy="13.5">cobertura  de un tipo que no califica como contabilidad de cobertura bajo IAS 39, sin embargo, si</tspan>
<tspan x="676" dy="13.5">una entidad  designó una posición neta como un elemento  cubierto bajo GAAP previos, puede</tspan>
<tspan x="676" dy="13.5">designar un elemento individual  con esa posición neta como un elemento cubierto bajo los IFRS,</tspan>
<tspan x="676" dy="13.5">provisto que no lo hace después de la fecha de transición  hacia IFRS. Una entidad tiene que aplicar</tspan>
<tspan x="676" dy="13.5">las provisiones  transitorias de IAS 39 a todas las otras relaciones de cobertura que existan a la</tspan>
<tspan x="676" dy="13.5">fecha de transición  hacia IFRS.</tspan>
</text></g>
</svg>
